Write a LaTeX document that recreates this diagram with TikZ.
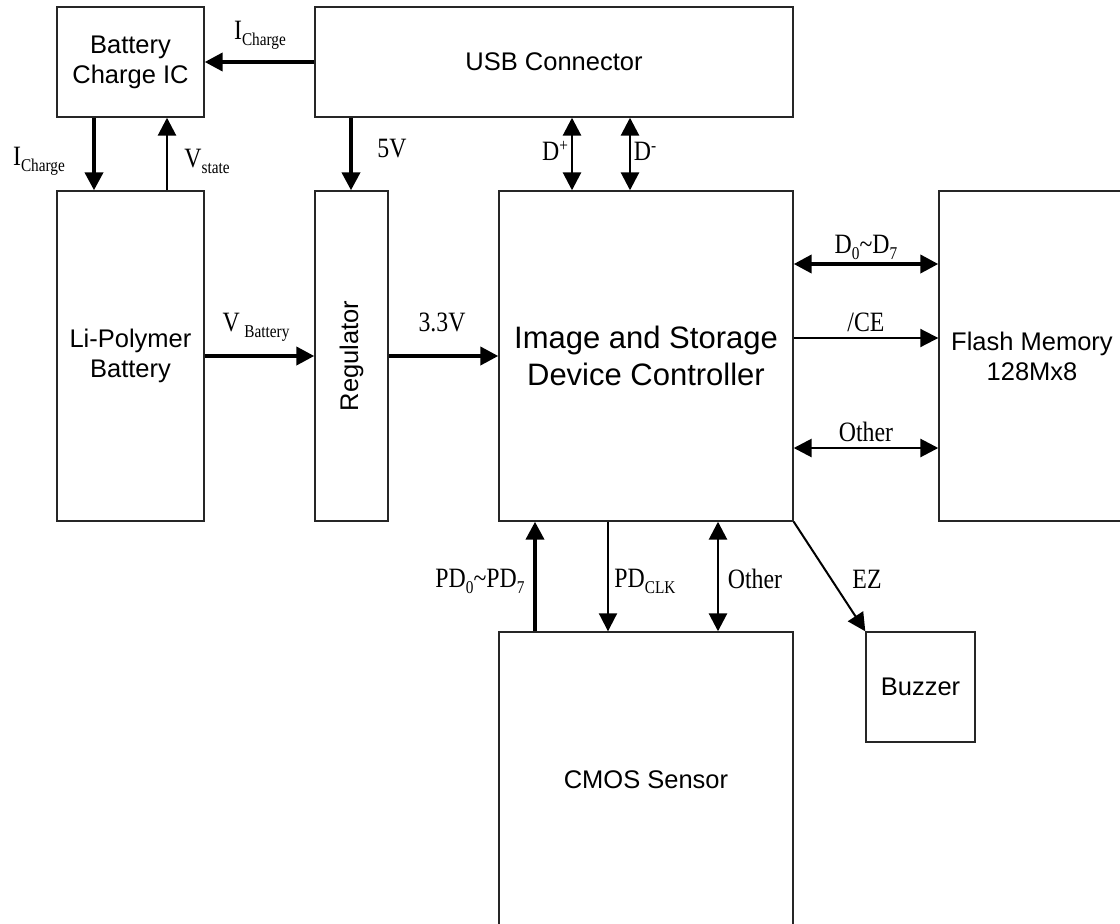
\documentclass[tikz,border=0pt]{standalone}
\usepackage{fontspec}
\setmainfont{Liberation Sans}
\newfontfamily\lblfont{Liberation Serif}[FakeStretch=0.85]
\usetikzlibrary{arrows.meta}
\newcommand\sbs[1]{\raisebox{-6pt}{\fontsize{18}{18}\selectfont #1}}
\newcommand\sps[1]{\raisebox{9pt}{\fontsize{18}{18}\selectfont #1}}
\begin{document}
\begin{tikzpicture}[x=1pt,y=-1pt,
  box/.style={draw=black!85, line width=1.4pt, fill=white, inner sep=0pt, align=center,
    font=\fontsize{25.5}{30}\selectfont},
  lbl/.style={font=\lblfont\fontsize{28}{30}\selectfont, inner sep=0pt},
  tip/.style={-{Triangle[length=18pt,width=18pt]}},
  dtip/.style={{Triangle[length=18pt,width=18pt]}-{Triangle[length=18pt,width=18pt]}},
  wthick/.style={line width=4pt},
  wmed/.style={line width=2.8pt},
  wthin/.style={line width=2pt}]
\useasboundingbox (0,0) rectangle (1120,924);
\clip (0,0) rectangle (1120,924);
% boxes
\node[box, minimum width=147, minimum height=110] (ic) at (130.5,62) {Battery\\Charge IC};
\node[box, minimum width=478, minimum height=110] (usb) at (554,62) {USB Connector};
\node[box, minimum width=147, minimum height=330] (bat) at (130.5,356) {Li-Polymer\\Battery};
\node[box, minimum width=73, minimum height=330] (reg) at (351.5,356) {};
\node[rotate=90, font=\fontsize{25.5}{30}\selectfont] at (reg.center) {Regulator};
\node[box, minimum width=294, minimum height=330, font=\fontsize{31}{37}\selectfont] (ctl) at (646,356) {Image and Storage\\Device Controller};
\node[box, minimum width=186, minimum height=330] (fla) at (1032,356) {Flash Memory\\128Mx8};
\node[box, minimum width=294, minimum height=296] (cmos) at (646,780) {CMOS Sensor};
\node[box, minimum width=109, minimum height=110] (buz) at (920.5,687) {Buzzer};
% x / y helper coordinates
\coordinate (x94) at (94,0);
\coordinate (x167) at (167,0);
\coordinate (x351) at (351,0);
\coordinate (x572) at (572,0);
\coordinate (x630) at (630,0);
\coordinate (x535) at (535,0);
\coordinate (x608) at (608,0);
\coordinate (x718) at (718,0);
\coordinate (y62) at (0,62);
\coordinate (y356) at (0,356);
\coordinate (y264) at (0,264);
\coordinate (y338) at (0,338);
\coordinate (y448) at (0,448);
% connectors
\draw[tip, wthick] (usb.west |- y62) -- (ic.east |- y62);
\draw[tip, wthick] (ic.south -| x94) -- (bat.north -| x94);
\draw[tip, wmed] (bat.north -| x167) -- (ic.south -| x167);
\draw[tip, wthick] (usb.south -| x351) -- (reg.north -| x351);
\draw[dtip, wmed] (usb.south -| x572) -- (ctl.north -| x572);
\draw[dtip, wmed] (usb.south -| x630) -- (ctl.north -| x630);
\draw[tip, wthick] (bat.east |- y356) -- (reg.west |- y356);
\draw[tip, wthick] (reg.east |- y356) -- (ctl.west |- y356);
\draw[dtip, wthick] (ctl.east |- y264) -- (fla.west |- y264);
\draw[tip, wthin] (ctl.east |- y338) -- (fla.west |- y338);
\draw[dtip, wmed] (ctl.east |- y448) -- (fla.west |- y448);
\draw[tip, wthick] (cmos.north -| x535) -- (ctl.south -| x535);
\draw[tip, wthin] (ctl.south -| x608) -- (cmos.north -| x608);
\draw[dtip, wmed] (ctl.south -| x718) -- (cmos.north -| x718);
\draw[tip, wthin] (ctl.south east) -- (buz.north west);
% labels
\node[lbl] (l1) at (260,35) {I\sbs{Charge}};
\node[lbl] (l2) at (39,161) {I\sbs{Charge}};
\node[lbl] (l3) at (207,161) {V\sbs{state}};
\node[lbl] (l4) at (392,149) {5V};
\node[lbl] (l5) at (555,151) {D\sps{+}};
\node[lbl] (l6) at (645,151) {D\sps{-}};
\node[lbl] (l7) at (256,327) {V\,\sbs{Battery}};
\node[lbl] (l8) at (442,322) {3.3V};
\node[lbl] (l9) at (866,247) {D\sbs{0}\textasciitilde D\sbs{7}};
\node[lbl] (l10) at (866,322) {/CE};
\node[lbl] (l11) at (866,432) {Other};
\node[lbl] (l12) at (480,581) {PD\sbs{0}\textasciitilde PD\sbs{7}};
\node[lbl] (l13) at (645,581) {PD\sbs{CLK}};
\node[lbl] (l14) at (755,579) {Other};
\node[lbl] (l15) at (867,579) {EZ};
\end{tikzpicture}
\end{document}
